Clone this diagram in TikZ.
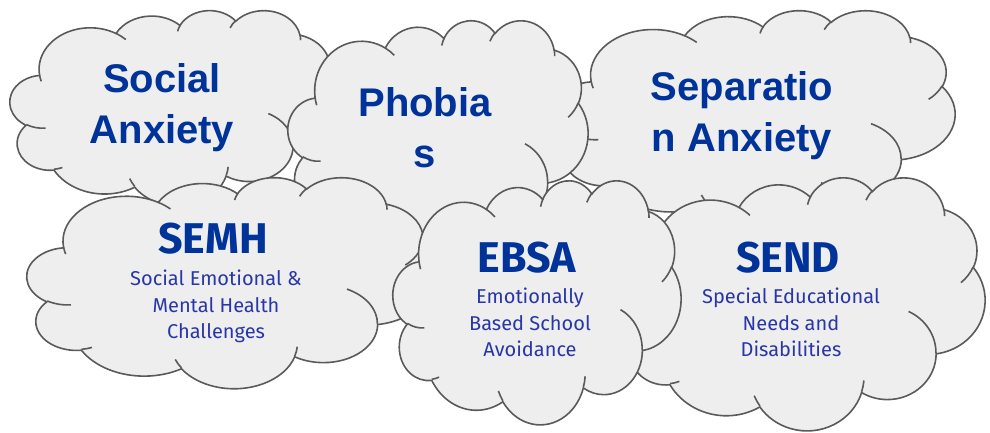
\documentclass[tikz,border=0pt]{standalone}
\usepackage{fontspec}
\usepackage{tikz}

\newfontfamily\cloudhead{Liberation Sans}
\newfontfamily\cloudbody{Fira Sans}

\definecolor{cloudfill}{HTML}{EEEEEE}
\definecolor{cloudline}{HTML}{5A5A5A}
\definecolor{titleblue}{HTML}{00339A}
\definecolor{subblue}{HTML}{2836A8}

\tikzset{
    cloudpath/.style={fill=cloudfill, draw=cloudline, line width=1.6pt},
    creaseline/.style={draw=cloudline, line width=1.6pt},
    bigtitle/.style={text=titleblue, align=center, inner sep=0pt,
        font=\cloudhead\bfseries\fontsize{40}{51}\selectfont},
    smalltitle/.style={text=titleblue, inner sep=0pt,
        font=\cloudbody\bfseries\fontsize{43}{50}\selectfont},
    subtext/.style={text=subblue, align=center, inner sep=0pt,
        font=\cloudbody\fontsize{20}{26.5}\selectfont}}

% one bump of the cloud: radii, start angle and sweep (angles measured to the point)
\newcommand\oarc[4]{arc[x radius=#1, y radius=#2,
    start angle={vis(#3,#1,#2)}, end angle={vis(#3+#4,#1,#2)}]}

% cloud in the box with top left corner (#1,#2), width #3 and height #4
\newcommand\drawcloud[4]{%
    \begin{scope}[shift={(#1,#2)}, xscale=#3/43.2, yscale=#4/43.2]
        \path[cloudpath] (3.9,14.37)
            \oarc{6.753}{9.19}{-190.4875}{123.7805}
            \oarc{5.333}{7.267}{-144.1024}{89.9452}
            \oarc{4.365}{5.945}{-145.8079}{99.7230}
            \oarc{4.857}{6.595}{-130.9861}{117.2417}
            \oarc{5.333}{7.273}{-78.7089}{109.0269}
            \oarc{6.775}{9.22}{-46.2673}{130.269}
            \oarc{5.785}{7.867}{0.625}{114.0333}
            \oarc{6.752}{9.215}{22.4516}{115.1726}
            \oarc{7.72}{10.543}{66.2426}{75.711}
            \oarc{4.36}{5.918}{-274.9421}{146.7356}
            \oarc{4.345}{5.945}{-246.8285}{152.5189}
            -- cycle;
        % the little folds inside the outline
        \path[creaseline]
            (4.693,26.177) \oarc{4.345}{5.945}{86.742}{26.4295}
            (6.928,34.899) \oarc{4.36}{5.918}{73.6105}{11.4475}
            (16.478,39.09) \oarc{6.752}{9.215}{137.6242}{14.0811}
            (28.827,34.751) \oarc{6.752}{9.215}{6.4533}{15.9984}
            (34.129,22.954) \oarc{5.785}{7.867}{-70.2924}{70.9174}
            (41.798,15.354) \oarc{5.333}{7.273}{30.318}{27.7515}
            (38.324,5.426) \oarc{4.857}{6.595}{-13.7443}{14.8589}
            (29.078,3.952) \oarc{4.857}{6.595}{-149.1815}{18.1954}
            (22.141,4.72) \oarc{4.365}{5.945}{-163.4943}{17.6864}
            (14,5.192) \oarc{6.753}{9.19}{-66.707}{12.3194}
            (4.127,15.789) \oarc{6.753}{9.19}{157.6544}{11.8582};
    \end{scope}}

\begin{document}
\begin{tikzpicture}[x=1pt, y=-1pt,
    declare function={vis(\a,\w,\h)=\a+mod(atan2(\w*sin(\a),\h*cos(\a))-\a+1260,360)-180;}]

    \useasboundingbox (0,0) rectangle (990,433);

    % back row first, the front row overlaps it
    \drawcloud{10}{10}{327}{195}
    \drawcloud{555}{10}{400}{214}
    \drawcloud{288}{20}{300}{233}
    \drawcloud{27}{177}{405}{211}
    \drawcloud{621}{177}{364}{253}
    \drawcloud{393}{180}{288}{244}

    \node[bigtitle] (social) at (162,108) {Social\\Anxiety};
    \node[bigtitle] (phobias) at (425,128) {Phobia\\s};
    \node[bigtitle] (separation) at (742,116) {Separatio\\n Anxiety};

    \node[smalltitle, anchor=base] (semh) at (213,253) {SEMH};
    \node[subtext, anchor=north] (semhtext) at (216,270) {Social Emotional \&\\Mental Health\\Challenges};

    \node[smalltitle, anchor=base] (ebsa) at (527,272) {EBSA};
    \node[subtext, anchor=north] (ebsatext) at (530,288) {Emotionally\\Based School\\Avoidance};

    \node[smalltitle, anchor=base] (send) at (788,272) {SEND};
    \node[subtext, anchor=north] (sendtext) at (791,288) {Special Educational\\Needs and\\Disabilities};

\end{tikzpicture}
\end{document}
